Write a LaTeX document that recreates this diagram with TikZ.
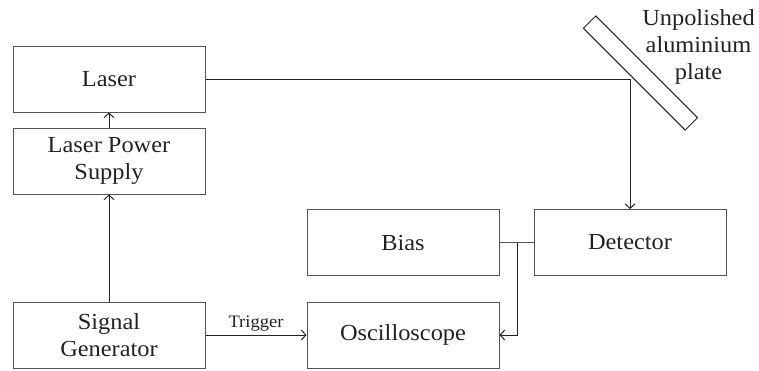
\documentclass[tikz,border=0pt]{standalone}
\usepackage{fontspec}
\setmainfont{Liberation Serif}[FakeStretch=1.06]
\usetikzlibrary{arrows.meta}
\definecolor{boxline}{HTML}{555555}
\definecolor{txt}{HTML}{222222}
\tikzset{
  blk/.style={draw=boxline, line width=1pt, minimum width=192pt, minimum height=66pt,
    inner sep=0pt, align=center, text=txt, font=\fontsize{23}{27}\selectfont},
  arr/.style={draw=txt, line width=1pt, -{Straight Barb[length=4.5pt,width=10pt,line width=1pt]}},
  wire/.style={draw=boxline, line width=1pt},
}
\begin{document}
\begin{tikzpicture}[x=1pt,y=-1pt]
\useasboundingbox (0,0) rectangle (759,370);
\node[blk] (laser) at (109,79) {Laser};
\node[blk] (lps) at (109,161) {Laser Power\\Supply};
\node[blk] (sg) at (109,335) {Signal\\Generator};
\node[blk] (bias) at (403,242.5) {Bias};
\node[blk] (det) at (630,242.5) {Detector};
\node[blk] (osc) at (403,335) {Oscilloscope};
\node[draw=txt, line width=0.9pt, minimum width=144pt, minimum height=17.5pt, inner sep=0pt, rotate=-45] (plate) at (640.5,73) {};
\node[align=center, text=txt, font=\fontsize{23}{27}\selectfont] (plabel) at (698.5,47) {Unpolished\\aluminium\\plate};
\draw[arr] (laser.east) -| (det.north);
\draw[arr] (lps.north) -- (laser.south);
\draw[arr] (sg.north) -- (lps.south);
\draw[arr] (sg.east) -- node[above, text=txt, font=\fontsize{17.5}{20}\selectfont, inner sep=3pt] (trig) {Trigger} (osc.west);
\draw[wire] (bias.east) -- (det.west);
\coordinate (j) at (517,242.5);
\draw[arr] (j) |- (osc.east);
\end{tikzpicture}
\end{document}
